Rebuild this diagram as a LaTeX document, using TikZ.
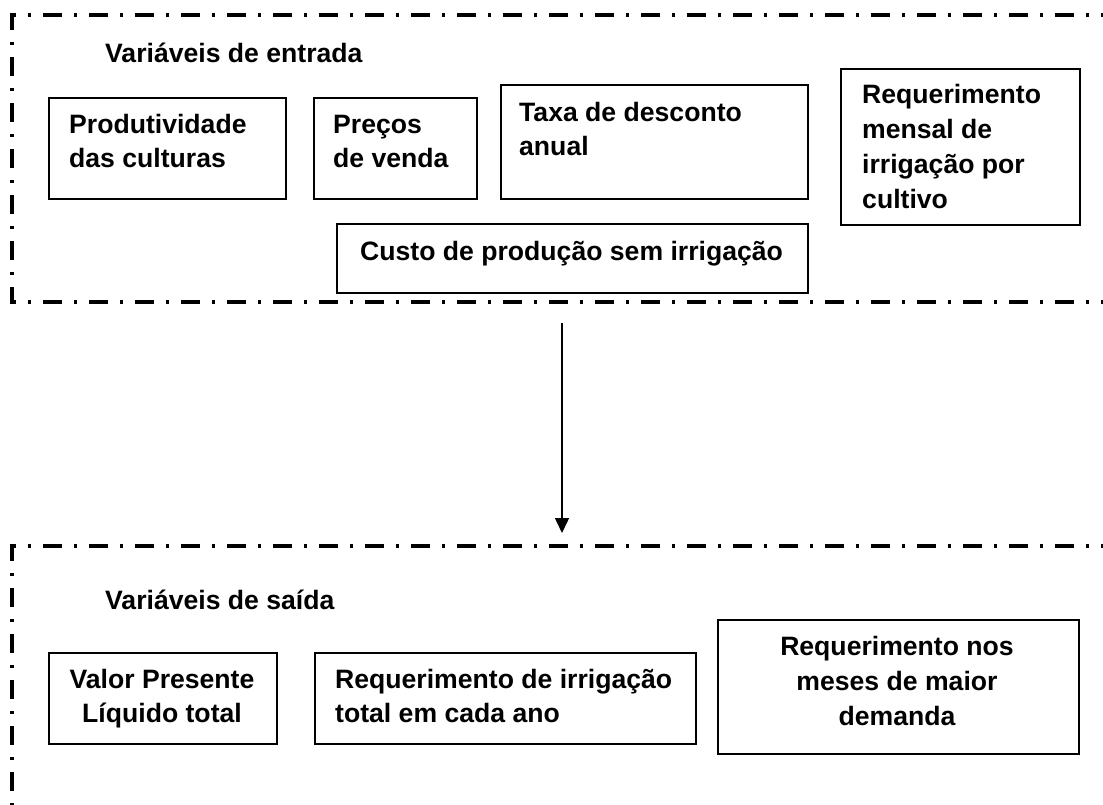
\documentclass[tikz,border=0pt]{standalone}
\usepackage{fontspec}
\setmainfont{Liberation Sans}
\usetikzlibrary{arrows.meta}
\begin{document}
\begin{tikzpicture}[x=1pt,y=-1pt,
  frame/.style={line width=3.2pt, dash pattern=on 19pt off 12pt on 3pt off 12pt},
  box/.style={draw, line width=1.8pt, inner sep=0pt, anchor=north west},
  txt/.style={inner sep=0pt, font=\fontsize{26.6}{34}\selectfont\bfseries},
  txtw/.style={inner sep=0pt, font=\fontsize{26.6}{35}\selectfont\bfseries},
  conn/.style={line width=1.5pt, -{Triangle[length=15pt,width=14pt]}}
]
\clip (0,0) rectangle (1103,804);
\fill[white] (0,0) rectangle (1103,804);

% frames
\draw[frame] (1120,15) -- (12,15) -- (12,302) -- (1120,302);
\draw[frame] (1120,546) -- (12,546) -- (12,820);

% input boxes
\node[box, minimum width=237pt, minimum height=101pt] (b1) at (48,97) {};
\node[box, minimum width=163pt, minimum height=101pt] (b2) at (313,97) {};
\node[box, minimum width=307pt, minimum height=114pt] (b3) at (500,84) {};
\node[box, minimum width=239pt, minimum height=156pt] (b4) at (840,68) {};
\node[box, minimum width=471pt, minimum height=69pt] (b5) at (336,223) {};

% (base anchor of a multi-line node = baseline of its last line)
\node[txt, anchor=base west] (t1) at (105,62) {Variáveis de entrada};
\node[txt, anchor=base west, align=left] (p1) at (69,167) {Produtividade\\das culturas};
\node[txt, anchor=base west, align=left] (p2) at (333,167) {Preços\\de venda};
\node[txt, anchor=base west, align=left] (p3) at (519,155) {Taxa de desconto\\anual};
\node[txtw, anchor=base west, align=left] (p4) at (862,208) {Requerimento\\mensal de\\irrigação por\\cultivo};
\node[txt, anchor=base west] (p5) at (360,260) {Custo de produção sem irrigação};

% output boxes
\node[box, minimum width=228pt, minimum height=91pt] (c1) at (48,652) {};
\node[box, minimum width=381pt, minimum height=91pt] (c2) at (314,652) {};
\node[box, minimum width=361pt, minimum height=134pt] (c3) at (717,619) {};

\node[txt, anchor=base west] (t2) at (105,609) {Variáveis de saída};
\node[txt, anchor=base, align=center] (q1) at (162,722) {Valor Presente\\Líquido total};
\node[txt, anchor=base west, align=left] (q2) at (335,722) {Requerimento de irrigação\\total em cada ano};
\node[txtw, anchor=base, align=center] (q3) at (897,725) {Requerimento nos\\meses de maior\\demanda};

% arrow
\coordinate (as) at (562,323);
\coordinate (ae) at (562,533);
\draw[conn] (as) -- (ae);
\end{tikzpicture}
\end{document}
